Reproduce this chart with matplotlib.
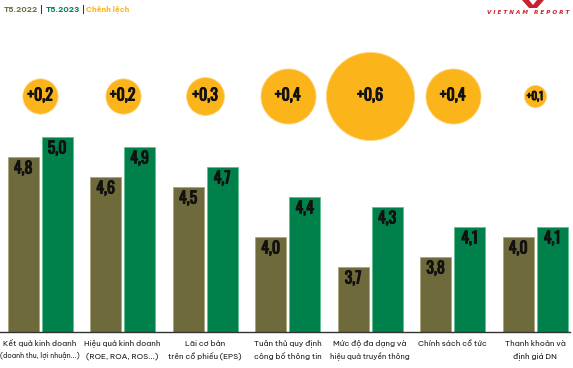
import matplotlib
matplotlib.use('Agg')
import matplotlib.pyplot as plt
import matplotlib.patheffects as pe
import numpy as np

# data
categories = [
    'Kết quả kinh doanh\n(doanh thu, lợi nhuận...)',
    'Hiệu quả kinh doanh\n(ROE, ROA, ROS...)',
    'Lãi cơ bản\ntrên cổ phiếu (EPS)',
    'Tuân thủ quy định\ncông bố thông tin',
    'Mức độ đa dạng và\nhiệu quả truyền thông',
    'Chính sách cổ tức',
    'Thanh khoản và\nđịnh giá DN',
]
t5_2022 = [4.8, 4.6, 4.5, 4.0, 3.7, 3.8, 4.0]
t5_2023 = [5.0, 4.9, 4.7, 4.4, 4.3, 4.1, 4.1]
# change shown in the bubbles (label) and the unrounded change that sizes the bubble
change_labels = ['+0,2', '+0,2', '+0,3', '+0,4', '+0,6', '+0,4', '+0,1']
change_raw = [0.20, 0.20, 0.22, 0.35, 0.60, 0.35, 0.10]

OLIVE = '#6f6a3b'
GREEN = '#00804b'
YELLOW = '#fbb41a'
NUM_FONT = ['Oswald', 'DejaVu Sans']
LBL_FONT = ['Be Vietnam Pro', 'DejaVu Sans']
# thicken the condensed numbers a little
heavy = [pe.Stroke(linewidth=0.7, foreground='#111111'), pe.Normal()]

W, H, DPI = 573, 368, 100
fig = plt.figure(figsize=(W / DPI, H / DPI), dpi=DPI)
fig.set_facecolor('white')
renderer = fig.canvas.get_renderer()

# axes covers the figure from the top down to the baseline (332 px)
base_px = 332
ax = fig.add_axes([0, (H - base_px) / H, 1, base_px / H])
ax.set_axis_off()

step = 82.5      # px between groups
x0_px = 40       # centre of first group
ax.set_xlim(-x0_px / step, (W - x0_px) / step)
ax.set_ylim(3.05, 3.05 + base_px / 100.0)

x = np.arange(len(categories))
bw = 31 / step
off = 17 / step

ax.bar(x - off, t5_2022, width=bw, color=OLIVE, edgecolor='#a9a57c', linewidth=0.6, zorder=2)
ax.bar(x + off, t5_2023, width=bw, color=GREEN, edgecolor='#5fc08f', linewidth=0.6, zorder=2)


def fmt(v):
    return ('%.1f' % v).replace('.', ',')


for xi, v in zip(x, t5_2022):
    ax.text(xi - off, v - 0.045, fmt(v), ha='center', va='top', fontsize=11.5,
            family=NUM_FONT, weight='bold', color='#111111', zorder=3, path_effects=heavy)
for xi, v in zip(x, t5_2023):
    ax.text(xi + off, v - 0.045, fmt(v), ha='center', va='top', fontsize=11.5,
            family=NUM_FONT, weight='bold', color='#111111', zorder=3, path_effects=heavy)

# bubbles for the change, diameter in px from the raw change
y_bub = 3.05 + (base_px - 96) / 100.0
for xi, c, lab in zip(x, change_raw, change_labels):
    d_px = 8.8 + 132 * c
    s = (d_px * 72 / DPI) ** 2
    ax.scatter([xi], [y_bub], s=s, color=YELLOW, edgecolors='#fdd27a', linewidths=0.6,
               zorder=2, clip_on=False)
    ax.text(xi, y_bub, lab, ha='center', va='center', fontsize=min(11.5, d_px * 0.36),
            family=NUM_FONT, weight='bold', color='#111111', zorder=3, path_effects=heavy)

# baseline
ax.plot([ax.get_xlim()[0], (570 - x0_px) / step], [3.05, 3.05], color='#333333', lw=1.0,
        zorder=4, clip_on=False)

# category labels under the axis, each line shrunk to fit its slot
for xi, c in zip(x, categories):
    for j, line in enumerate(c.split('\n')):
        t = fig.text((x0_px + xi * step) / W, 1 - (343 + 13 * j) / H, line, ha='center',
                     va='center', fontsize=5.7, family=LBL_FONT, color='#1a1a1a')
        wpx = t.get_window_extent(renderer=renderer).width
        if wpx > 79:
            t.set_fontsize(5.7 * 79 / wpx)

# legend line at the top left
lx = 4 / W
ly = 1 - 9 / H
parts = [('T5.2022', OLIVE), (' | ', '#333333'), ('T5.2023', GREEN), (' | ', '#333333'),
         ('Chênh lệch', YELLOW)]
for txt, col in parts:
    t = fig.text(lx, ly, txt, ha='left', va='center', fontsize=5.6, family=LBL_FONT,
                 weight='bold', color=col)
    bb = t.get_window_extent(renderer=renderer)
    lx += bb.width / W

# logo remnant at the top right
fig.add_artist(plt.Polygon([[522 / W, 1.0], [529 / W, 1.0], [533 / W, 1 - 5 / H],
                            [537 / W, 1.0], [544 / W, 1.0], [537 / W, 1 - 8 / H],
                            [529 / W, 1 - 8 / H]], closed=True, transform=fig.transFigure,
                           color='#c8202f', lw=0))
fig.text(528 / W, 1 - 13 / H, 'V I E T N A M   R E P O R T', ha='center', va='center',
         fontsize=4.1, family=['DejaVu Sans'], weight='bold', style='italic', color='#c8202f')

fig.savefig('out.png', dpi=DPI, facecolor='white')
